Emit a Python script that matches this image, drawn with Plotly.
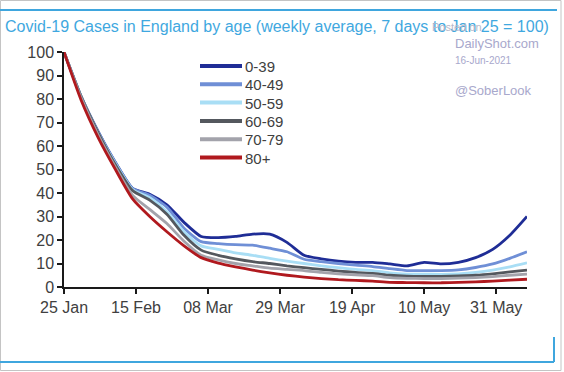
import plotly.graph_objects as go
import pandas as pd

# ---- data (7-day avg, Jan 25 = 100), sampled every 5 days from 25 Jan 2021 ----
dates = pd.date_range("2021-01-25", periods=28, freq="5D")
age_groups = ["0-39", "40-49", "50-59", "60-69", "70-79", "80+"]
v_0_39 = [100, 81, 66, 53, 42, 39.5, 35, 27.5, 21.5, 21, 21.5, 22.5, 22.5, 19, 13.5, 12, 11, 10.5,
          10.5, 9.8, 9.0, 10.5, 9.8, 10.5, 12.5, 16, 22, 30]
v_40_49 = [100, 81, 66, 53, 42, 39, 34, 25, 19.3, 18.5, 18, 17.8, 16.5, 15, 11.8, 10.8, 10, 9.3,
           8.7, 7.8, 7.0, 7.0, 7.0, 7.3, 8.3, 9.8, 12.2, 15]
v_50_59 = [100, 81, 65.5, 52.5, 41.5, 38, 32, 23.5, 17.5, 16, 14.5, 13.5, 12.2, 11, 10, 9, 8.2,
           7.5, 7, 6, 5.5, 5.5, 5.4, 5.6, 6.2, 7.2, 8.6, 10.3]
v_60_69 = [100, 81, 65.5, 52, 41, 37, 31, 22, 15.7, 13.5, 12, 10.8, 10, 9, 8.2, 7.5, 6.8, 6.2,
           5.8, 5.0, 4.6, 4.5, 4.5, 4.7, 5.0, 5.6, 6.4, 7.2]
v_70_79 = [100, 80.5, 64.5, 51, 39, 33, 27, 19.5, 13.5, 11.5, 10, 9, 8, 7.5, 7, 6.2, 5.6, 5.2,
           4.8, 4.0, 3.7, 3.6, 3.6, 3.8, 4.0, 4.4, 5.0, 5.5]
v_80p = [100, 79.5, 63.5, 50, 37.5, 30, 23.5, 17.5, 12.5, 10.2, 8.6, 7.2, 6, 5, 4.2, 3.6, 3.1, 2.8,
         2.5, 2.0, 1.9, 1.8, 1.8, 2.0, 2.2, 2.5, 2.9, 3.3]
series = [v_0_39, v_40_49, v_50_59, v_60_69, v_70_79, v_80p]
colors = ["#1f2d96", "#6f8fd6", "#a9def5", "#54585e", "#a3a3ab", "#b0191e"]

tick_vals = ["2021-01-25", "2021-02-15", "2021-03-08", "2021-03-29", "2021-04-19",
             "2021-05-10", "2021-05-31"]
tick_text = ["25 Jan", "15 Feb", "08 Mar", "29 Mar", "19 Apr", "10 May", "31 May"]

W, H = 564, 372
L, R, T, B = 64, 527, 52, 287  # plot area in pixels

fig = go.Figure()
for name, vals, col in zip(age_groups, series, colors):
    fig.add_trace(go.Scatter(x=dates, y=vals, name=name, mode="lines", showlegend=False,
                             line=dict(color=col, width=2.8, shape="spline", smoothing=0.6)))

def px(x):
    return (x - L) / (R - L)

def py(y):
    return (B - y) / (B - T)

shapes = [
    # outer light-gray frame
    dict(type="rect", xref="paper", yref="paper", x0=px(0.5), x1=px(561), y0=py(0.5), y1=py(370.5),
         line=dict(color="#c4c4c4", width=1)),
    # top blue rule
    dict(type="line", xref="paper", yref="paper", x0=px(0), x1=px(557), y0=py(10), y1=py(10),
         line=dict(color="#3fa6de", width=2)),
    # bottom blue rule and corner
    dict(type="line", xref="paper", yref="paper", x0=px(0), x1=px(554), y0=py(362), y1=py(362),
         line=dict(color="#3fa6de", width=2)),
    dict(type="line", xref="paper", yref="paper", x0=px(554), x1=px(554), y0=py(337), y1=py(362),
         line=dict(color="#3fa6de", width=2)),
]

annotations = [
    dict(text="Covid-19 Cases in England by age (weekly average, 7 days to Jan 25 = 100)",
         xref="paper", yref="paper", x=px(3), y=py(26), xanchor="left", yanchor="middle",
         showarrow=False, font=dict(family="Liberation Sans", size=16, color="#3fa8e0")),
    dict(text="Posted on", xref="paper", yref="paper", x=px(430), y=py(27), xanchor="left",
         yanchor="middle", showarrow=False, font=dict(family="Liberation Sans", size=11, color="#b8b8c8")),
    dict(text="DailyShot.com", xref="paper", yref="paper", x=px(453), y=py(43), xanchor="left",
         yanchor="middle", showarrow=False, font=dict(family="Liberation Sans", size=13, color="#a8a8cc")),
    dict(text="16-Jun-2021", xref="paper", yref="paper", x=px(453), y=py(60), xanchor="left",
         yanchor="middle", showarrow=False, font=dict(family="Liberation Sans", size=10, color="#a8a8cc")),
    dict(text="@SoberLook", xref="paper", yref="paper", x=px(453), y=py(90), xanchor="left",
         yanchor="middle", showarrow=False, font=dict(family="Liberation Sans", size=13, color="#a8a8cc")),
]

# legend drawn as line samples + text labels
leg_x0, leg_x1, leg_y0, leg_dy = 200, 242, 66, 18.3
for i, (name, col) in enumerate(zip(age_groups, colors)):
    yy = leg_y0 + i * leg_dy
    shapes.append(dict(type="line", xref="paper", yref="paper", x0=px(leg_x0), x1=px(leg_x1),
                       y0=py(yy), y1=py(yy), line=dict(color=col, width=4)))
    annotations.append(dict(text=name, xref="paper", yref="paper", x=px(leg_x1 + 1), y=py(yy + 0.5),
                            xanchor="left", yanchor="middle", showarrow=False,
                            font=dict(family="Liberation Sans", size=15, color="#404040")))

fig.update_layout(
    width=W, height=H,
    margin=dict(l=L, r=W - R, t=T, b=H - B, pad=0),
    paper_bgcolor="white", plot_bgcolor="white",
    showlegend=False,
    shapes=shapes, annotations=annotations,
    font=dict(family="Liberation Sans", color="#404040"),
)
fig.update_xaxes(range=["2021-01-25", "2021-06-09"], tickvals=tick_vals, ticktext=tick_text,
                 showgrid=False, zeroline=False, showline=True, linecolor="#1a1a1a", linewidth=1.5,
                 ticks="outside", ticklen=5, tickwidth=1.5, tickcolor="#1a1a1a", automargin=False,
                 tickfont=dict(size=16, color="#404040"))
fig.update_yaxes(range=[0, 100], dtick=10, showgrid=False, zeroline=False, showline=True,
                 linecolor="#1a1a1a", linewidth=1.5, ticks="outside", ticklen=5, tickwidth=1.5,
                 tickcolor="#1a1a1a", automargin=False,
                 tickfont=dict(size=16, color="#404040"))

fig.write_html("out.html", post_script="document.body.style.margin='0';",
               config={"displayModeBar": False})
